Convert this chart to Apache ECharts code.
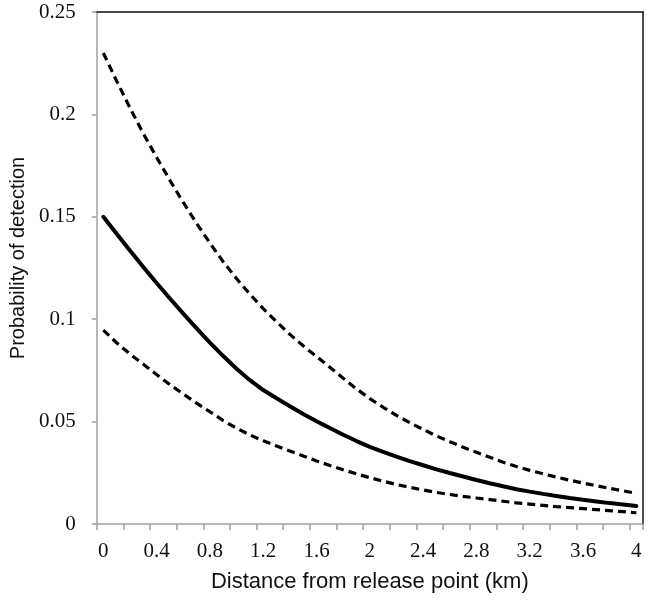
<!DOCTYPE html>
<html>
<head>
<meta charset="utf-8">
<script src="https://cdn.jsdelivr.net/npm/echarts@6/dist/echarts.min.js"></script>
<style>html,body{margin:0;padding:0;background:#fff}#c{width:650px;height:600px}</style>
</head>
<body>
<div id="c"></div>
<script>
var categories = ['0','0.1','0.2','0.3','0.4','0.5','0.6','0.7','0.8','0.9','1','1.1','1.2','1.3','1.4','1.5','1.6','1.7','1.8','1.9','2','2.1','2.2','2.3','2.4','2.5','2.6','2.7','2.8','2.9','3','3.1','3.2','3.3','3.4','3.5','3.6','3.7','3.8','3.9','4'];
var estimate = [0.150,0.1417,0.1335,0.1255,0.1177,0.1101,0.1027,0.0955,0.0886,0.082,0.0758,0.0702,0.0654,0.0614,0.0575,0.0537,0.0502,0.0469,0.0436,0.0405,0.0377,0.0352,0.0329,0.0307,0.0287,0.0267,0.0249,0.0232,0.0215,0.0199,0.0184,0.017,0.0158,0.0147,0.0137,0.0127,0.0118,0.011,0.0102,0.0095,0.0088];
var upperCI = [0.230,0.2163,0.2032,0.1907,0.179,0.1678,0.157,0.1468,0.1372,0.128,0.1198,0.1122,0.1052,0.0987,0.0926,0.087,0.0818,0.0765,0.0712,0.066,0.0612,0.057,0.053,0.0495,0.0462,0.043,0.0402,0.0375,0.035,0.0326,0.0302,0.0281,0.0262,0.0245,0.0229,0.0214,0.020,0.0187,0.0174,0.0162,0.015];
var lowerCI = [0.0947,0.0885,0.083,0.078,0.073,0.068,0.0635,0.059,0.0548,0.0505,0.0468,0.0435,0.0406,0.0381,0.0356,0.0332,0.0308,0.0286,0.0265,0.0245,0.0226,0.0209,0.0193,0.0179,0.0166,0.0154,0.0144,0.0135,0.0127,0.0119,0.0111,0.0103,0.0097,0.0091,0.0085,0.008,0.0075,0.007,0.0065,0.006,0.0055];
var yMin = 0, yMax = 0.25, yStep = 0.05;

var chart = echarts.init(document.getElementById('c'));
var serif = '"Liberation Serif", "Times New Roman", serif';
var sans = '"Liberation Sans", Arial, sans-serif';
chart.setOption({
  animation: false,
  backgroundColor: '#fff',
  grid: { left: 90, right: 7, top: 12, bottom: 76, containLabel: false },
  xAxis: [{
    type: 'category',
    data: categories,
    boundaryGap: true,
    name: 'Distance from release point (km)',
    nameLocation: 'middle',
    nameGap: 47,
    nameTextStyle: { fontFamily: sans, fontSize: 22, color: '#111' },
    axisLine: { show: true, onZero: false, lineStyle: { color: '#a0a0a0', width: 1.5 } },
    axisTick: { show: true, interval: 1, length: 6, lineStyle: { color: '#a0a0a0', width: 1.5 } },
    axisLabel: { interval: 3, margin: 17, fontFamily: serif, fontSize: 21, color: '#111' },
    splitLine: { show: false }
  }, {
    type: 'category',
    data: categories,
    position: 'top',
    boundaryGap: true,
    axisLine: { show: true, onZero: false, lineStyle: { color: '#111', width: 1.5 } },
    axisTick: { show: false },
    axisLabel: { show: false },
    splitLine: { show: false }
  }],
  yAxis: [{
    type: 'value',
    min: yMin, max: yMax, interval: yStep,
    name: 'Probability of detection',
    nameLocation: 'middle',
    nameGap: 64,
    nameTextStyle: { fontFamily: sans, fontSize: 20, color: '#111', padding: [0, 0, 0, 20] },
    axisLine: { show: true, onZero: false, lineStyle: { color: '#a0a0a0', width: 1.5 } },
    axisTick: { show: true, length: 5, lineStyle: { color: '#a0a0a0', width: 1.5 } },
    axisLabel: { margin: 21, fontFamily: serif, fontSize: 21, color: '#111' },
    splitLine: { show: false }
  }, {
    type: 'value',
    min: yMin, max: yMax, interval: yStep,
    position: 'right',
    axisLine: { show: true, onZero: false, lineStyle: { color: '#111', width: 1.5 } },
    axisTick: { show: false },
    axisLabel: { show: false },
    splitLine: { show: false }
  }],
  series: [{
    name: 'Upper',
    type: 'line',
    data: upperCI,
    symbol: 'none',
    lineStyle: { color: '#000', width: 3.2, type: [8, 5], cap: 'butt' }
  }, {
    name: 'Estimate',
    type: 'line',
    data: estimate,
    symbol: 'none',
    lineStyle: { color: '#000', width: 4, cap: 'round' }
  }, {
    name: 'Lower',
    type: 'line',
    data: lowerCI,
    symbol: 'none',
    lineStyle: { color: '#000', width: 3.2, type: [8, 5], cap: 'butt' }
  }]
});
</script>
</body>
</html>
